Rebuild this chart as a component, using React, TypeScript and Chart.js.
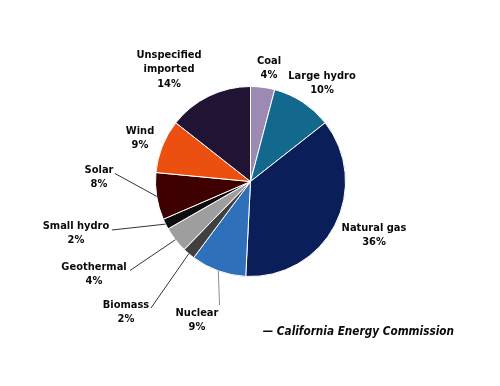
import React, { useEffect, useRef } from "react";
import { Chart, registerables } from "chart.js";

Chart.register(...registerables);

const categories = [
  "Coal",
  "Large hydro",
  "Natural gas",
  "Nuclear",
  "Biomass",
  "Geothermal",
  "Small hydro",
  "Solar",
  "Wind",
  "Unspecified imported",
];
const shares = [4.1, 10.3, 36.4, 9.4, 2.1, 4.4, 1.8, 8.0, 9.1, 14.4];
const pctLabels = ["4%", "10%", "36%", "9%", "2%", "4%", "2%", "8%", "9%", "14%"];
const labelLines = [
  ["Coal"],
  ["Large hydro"],
  ["Natural gas"],
  ["Nuclear"],
  ["Biomass"],
  ["Geothermal"],
  ["Small hydro"],
  ["Solar"],
  ["Wind"],
  ["Unspecified", "imported"],
];
const colors = [
  "#9c8ab5",
  "#13688e",
  "#0a1e5a",
  "#2e70ba",
  "#404040",
  "#9e9e9e",
  "#0d0d0d",
  "#3e0000",
  "#ec5010",
  "#211333",
];
// label placement (center x, first line y) and optional leader line end
const labelPos: { x: number; y: number; lx?: number; ly?: number; lc?: string }[] = [
  { x: 269, y: 61 },
  { x: 322, y: 76 },
  { x: 374, y: 228 },
  { x: 197, y: 313, lx: 219.5, ly: 305, lc: "#8c8c8c" },
  { x: 126, y: 305, lx: 151, ly: 308, lc: "#333333" },
  { x: 94, y: 267, lx: 130, ly: 270.5, lc: "#333333" },
  { x: 76, y: 226, lx: 112, ly: 230, lc: "#333333" },
  { x: 99, y: 170, lx: 115, ly: 173.5, lc: "#333333" },
  { x: 140, y: 131 },
  { x: 169, y: 55 },
];
const sourceText = "\u2014 California Energy Commission";

const FONT = "'DejaVu Sans Condensed', 'DejaVu Sans', sans-serif";

const labelPlugin = {
  id: "pieLabels",
  afterDraw(chart: any) {
    const ctx = chart.ctx as CanvasRenderingContext2D;
    const meta = chart.getDatasetMeta(0);
    ctx.save();
    meta.data.forEach((arc: any, i: number) => {
      const p = labelPos[i];
      if (p.lx !== undefined && p.ly !== undefined) {
        const { x, y, startAngle, endAngle, outerRadius } = arc.getProps(
          ["x", "y", "startAngle", "endAngle", "outerRadius"],
          true
        );
        const mid = (startAngle + endAngle) / 2;
        const ex = x + Math.cos(mid) * outerRadius;
        const ey = y + Math.sin(mid) * outerRadius;
        ctx.strokeStyle = p.lc || "#333";
        ctx.lineWidth = 1;
        ctx.beginPath();
        ctx.moveTo(p.lx, p.ly);
        ctx.lineTo(ex, ey);
        ctx.stroke();
      }
      const lines = [...labelLines[i], pctLabels[i]];
      ctx.fillStyle = "#0a0a0a";
      ctx.font = `bold 11px ${FONT}`;
      ctx.textAlign = "center";
      ctx.textBaseline = "middle";
      lines.forEach((t, k) => ctx.fillText(t, p.x, p.y + k * 14.5));
    });
    ctx.font = `italic bold 11.7px ${FONT}`;
    ctx.textAlign = "right";
    ctx.textBaseline = "middle";
    ctx.fillStyle = "#0a0a0a";
    ctx.fillText(sourceText, 454, 332);
    ctx.restore();
  },
};

export default function App() {
  const ref = useRef<HTMLCanvasElement | null>(null);
  useEffect(() => {
    document.body.style.margin = "0";
    const chart = new Chart(ref.current as HTMLCanvasElement, {
      type: "pie",
      data: {
        labels: categories,
        datasets: [
          {
            data: shares,
            backgroundColor: colors,
            borderColor: "#ffffff",
            borderWidth: 1,
          },
        ],
      },
      options: {
        animation: false,
        responsive: false,
        layout: { padding: { top: 86, bottom: 109, left: 155, right: 154 } },
        plugins: {
          legend: { display: false },
          tooltip: { enabled: false },
        },
      },
      plugins: [labelPlugin],
    });
    return () => chart.destroy();
  }, []);
  return (
    <div style={{ width: 500, height: 386, background: "#fff" }}>
      <canvas ref={ref} width={500} height={386} style={{ width: 500, height: 386 }} />
    </div>
  );
}
